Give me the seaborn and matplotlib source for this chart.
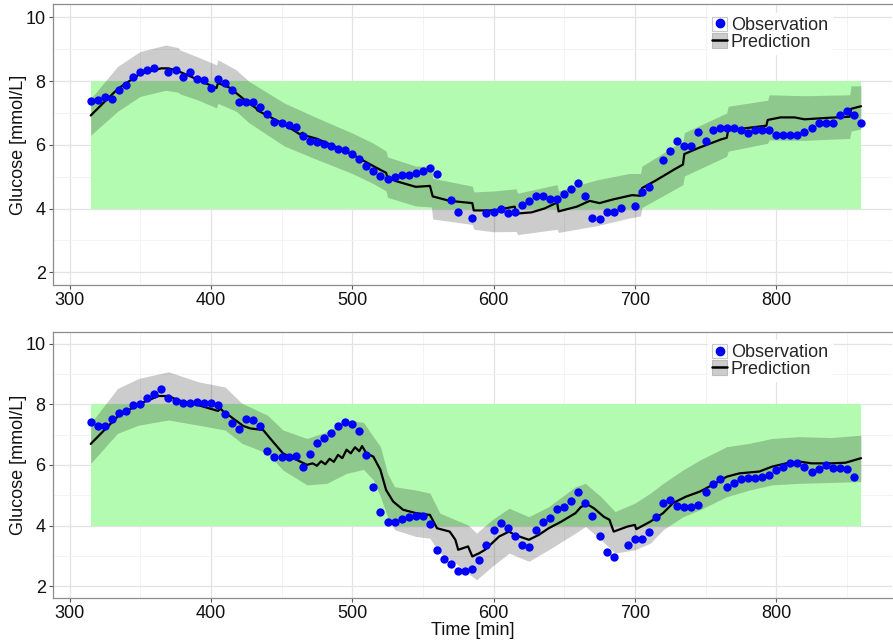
import numpy as np
import pandas as pd
import matplotlib
matplotlib.use("Agg")
import matplotlib.pyplot as plt
import seaborn as sns
from matplotlib.lines import Line2D
from matplotlib.patches import Patch

# ---------------- data ----------------
obs1_t = [315, 320, 325, 330, 335, 340, 345, 350, 355, 360, 370, 375, 380, 385, 390, 395, 400,
          405, 410, 415, 420, 425, 430, 435, 440, 445, 450, 455, 460, 465, 470, 475, 480, 485,
          490, 495, 500, 505, 510, 515, 520, 525, 530, 535, 540, 545, 550, 555, 560, 570, 575,
          585, 595, 600, 605, 610, 615, 620, 625, 630, 635, 640, 645, 650, 655, 660, 665, 670,
          675, 680, 685, 690, 700, 705, 710, 720, 725, 730, 735, 740, 745, 750, 755, 760, 765,
          770, 775, 780, 785, 790, 795, 800, 805, 810, 815, 820, 825, 830, 835, 840, 845, 850,
          855, 860]
obs1_v = [7.39, 7.42, 7.49, 7.45, 7.73, 7.88, 8.12, 8.28, 8.35, 8.41, 8.27, 8.35, 8.12, 8.29,
          8.06, 8.02, 7.77, 8.06, 7.94, 7.73, 7.34, 7.34, 7.35, 7.18, 6.96, 6.72, 6.67, 6.61,
          6.57, 6.29, 6.12, 6.09, 6.01, 5.96, 5.88, 5.85, 5.70, 5.54, 5.33, 5.18, 5.02, 4.94,
          4.99, 5.04, 5.04, 5.12, 5.19, 5.26, 5.08, 4.26, 3.88, 3.69, 3.85, 3.88, 3.98, 3.85,
          3.88, 4.11, 4.24, 4.38, 4.38, 4.31, 4.31, 4.47, 4.62, 4.81, 4.38, 3.69, 3.67, 3.88,
          3.89, 4.03, 4.08, 4.53, 4.68, 5.52, 5.80, 6.11, 5.96, 5.96, 6.39, 6.11, 6.46, 6.52,
          6.52, 6.52, 6.45, 6.37, 6.45, 6.45, 6.45, 6.32, 6.32, 6.32, 6.32, 6.39, 6.52, 6.68,
          6.68, 6.68, 6.92, 7.07, 6.95, 6.68]

pred1_t = [315, 325, 334, 350, 365, 370, 374, 375, 376, 390, 404, 405, 413, 427, 432, 433, 452,
           463, 465, 466, 475, 487, 500, 515, 524, 525, 531, 545, 555, 557, 569, 585, 586, 600,
           615, 616, 627, 636, 645, 646, 659, 668, 675, 684, 698, 704, 705, 714, 728, 734, 735,
           745, 761, 765, 766, 780, 793, 794, 803, 813, 820, 838, 852, 853, 860]
pred1_v = [6.92, 7.36, 7.75, 8.23, 8.40, 8.40, 8.35, 8.38, 8.33, 8.06, 7.78, 7.94, 7.80, 7.30,
           7.15, 7.08, 6.64, 6.33, 6.38, 6.30, 6.19, 5.96, 5.70, 5.33, 5.12, 4.96, 4.86, 4.68,
           4.71, 4.38, 4.24, 4.17, 3.94, 3.94, 4.06, 3.84, 3.88, 4.00, 4.19, 3.91, 4.06, 4.24,
           4.17, 4.28, 4.42, 4.40, 4.64, 4.86, 5.23, 5.38, 5.71, 5.90, 6.17, 6.22, 6.45, 6.53,
           6.60, 6.78, 6.86, 6.86, 6.80, 6.85, 6.88, 7.13, 7.21]

band1_t = [315, 334, 350, 368, 377, 378, 390, 404, 405, 418, 427, 452, 475, 500, 515, 524, 525,
           545, 556, 557, 585, 586, 600, 616, 617, 645, 646, 673, 696, 704, 705, 728, 734, 735,
           765, 766, 794, 795, 820, 852, 853, 860]
band1_lo = [6.30, 7.05, 7.52, 7.71, 7.65, 7.60, 7.42, 7.16, 7.30, 7.05, 6.69, 5.96, 5.54, 5.10,
            4.78, 4.55, 4.35, 4.08, 4.05, 3.67, 3.50, 3.35, 3.27, 3.28, 3.18, 3.35, 3.25, 3.46,
            3.70, 3.77, 4.03, 4.60, 4.75, 5.02, 5.64, 5.80, 6.05, 6.15, 6.14, 6.20, 6.43, 6.50]
band1_hi = [7.45, 8.46, 8.93, 9.13, 9.05, 8.98, 8.77, 8.51, 8.67, 8.35, 7.99, 7.31, 6.85, 6.37,
            6.05, 5.80, 5.62, 5.33, 5.33, 4.95, 4.70, 4.52, 4.55, 4.62, 4.48, 4.75, 4.55, 4.90,
            5.10, 5.10, 5.33, 5.96, 6.10, 6.38, 7.00, 7.21, 7.40, 7.57, 7.54, 7.57, 7.85, 7.85]

obs2_t = [315, 320, 325, 330, 335, 340, 345, 350, 355, 360, 365, 370, 375, 380, 385, 390, 395,
          400, 405, 410, 415, 420, 425, 430, 435, 440, 445, 450, 455, 460, 465, 470, 475, 480,
          485, 490, 495, 500, 505, 510, 515, 520, 525, 530, 535, 540, 545, 550, 555, 560, 565,
          570, 575, 580, 585, 590, 595, 600, 605, 610, 615, 620, 625, 630, 635, 640, 645, 650,
          655, 660, 665, 670, 675, 680, 685, 695, 700, 705, 710, 715, 720, 725, 730, 735, 740,
          745, 750, 755, 760, 765, 770, 775, 780, 785, 790, 795, 800, 805, 810, 815, 820, 825,
          830, 835, 840, 845, 850, 855]
obs2_v = [7.40, 7.28, 7.28, 7.50, 7.72, 7.78, 7.97, 8.00, 8.19, 8.35, 8.51, 8.19, 8.10, 8.03,
          8.05, 8.08, 8.05, 8.05, 7.97, 7.67, 7.39, 7.17, 7.50, 7.48, 7.28, 6.45, 6.27, 6.25,
          6.25, 6.29, 5.94, 6.36, 6.73, 6.89, 7.06, 7.28, 7.42, 7.34, 7.12, 6.33, 5.28, 4.43,
          4.10, 4.10, 4.22, 4.28, 4.32, 4.32, 4.05, 3.18, 2.89, 2.72, 2.49, 2.49, 2.57, 2.85,
          3.37, 3.84, 4.08, 3.93, 3.66, 3.37, 3.28, 3.84, 4.10, 4.26, 4.54, 4.62, 4.82, 5.12,
          4.74, 4.33, 3.66, 3.12, 2.96, 3.37, 3.55, 3.55, 3.78, 4.28, 4.74, 4.85, 4.65, 4.62,
          4.62, 4.68, 5.12, 5.37, 5.54, 5.28, 5.41, 5.53, 5.56, 5.56, 5.61, 5.67, 5.83, 5.94,
          6.07, 6.07, 5.94, 5.78, 5.86, 6.00, 5.89, 5.89, 5.86, 5.61]

pred2_t = [315, 334, 349, 363, 370, 377, 391, 405, 407, 409, 414, 423, 428, 437, 442, 451, 461,
           468, 472, 475, 478, 481, 484, 487, 490, 493, 496, 499, 502, 505, 507, 510, 515, 520,
           524, 529, 536, 545, 555, 560, 569, 573, 575, 582, 585, 590, 594, 599, 604, 611, 615,
           625, 632, 639, 648, 658, 662, 667, 671, 678, 682, 685, 695, 700, 701, 711, 720, 727,
           736, 746, 755, 765, 774, 788, 797, 807, 816, 825, 839, 849, 860]
pred2_v = [6.69, 7.59, 8.00, 8.27, 8.27, 8.13, 7.97, 7.78, 7.85, 7.75, 7.59, 7.28, 7.20, 7.15,
           6.87, 6.38, 6.16, 6.00, 6.05, 5.97, 6.12, 6.02, 6.20, 6.10, 6.33, 6.22, 6.50, 6.38,
           6.58, 6.45, 6.62, 6.38, 6.27, 5.83, 5.17, 4.79, 4.52, 4.41, 4.35, 3.91, 3.80, 3.53,
           3.20, 3.31, 2.98, 3.09, 3.20, 3.42, 3.64, 3.80, 3.69, 3.53, 3.69, 3.91, 4.13, 4.41,
           4.62, 4.68, 4.57, 4.29, 4.19, 3.80, 3.97, 4.02, 3.88, 4.13, 4.41, 4.74, 4.95, 5.12,
           5.34, 5.61, 5.72, 5.78, 5.94, 6.05, 6.11, 6.05, 6.05, 6.07, 6.22]

band2_t = [315, 334, 349, 370, 391, 410, 422, 440, 451, 468, 482, 496, 508, 515, 520, 525, 530,
           545, 555, 562, 573, 582, 588, 599, 611, 625, 639, 658, 665, 676, 686, 700, 711, 720,
           734, 746, 765, 781, 797, 816, 839, 860]
band2_lo = [6.05, 7.04, 7.31, 7.48, 7.31, 7.15, 6.71, 6.38, 5.83, 5.34, 5.39, 5.72, 5.85, 5.50,
            4.95, 4.29, 3.86, 3.64, 3.58, 3.09, 2.76, 2.43, 2.21, 2.65, 3.09, 2.82, 3.20, 3.75,
            3.97, 3.53, 3.09, 3.20, 3.42, 3.86, 4.29, 4.52, 4.95, 5.17, 5.34, 5.39, 5.42, 5.45]
band2_hi = [7.37, 8.52, 8.85, 9.07, 8.74, 8.57, 8.03, 7.64, 7.15, 6.87, 7.09, 7.48, 7.40, 6.93,
            6.60, 5.72, 5.28, 5.17, 5.07, 4.41, 4.19, 4.02, 3.75, 4.19, 4.57, 4.29, 4.62, 5.28,
            5.39, 4.95, 4.46, 4.74, 5.07, 5.39, 5.83, 6.16, 6.60, 6.71, 6.87, 6.93, 6.90, 6.98]

target_t = [315, 860]
target_lo = [4, 4]
target_hi = [8, 8]

x_ticks = [300, 400, 500, 600, 700, 800]
y_ticks = [2, 4, 6, 8, 10]
x_minor = [350, 450, 550, 650, 750, 850]
y_minor = [3, 5, 7, 9]

# ---------------- style ----------------
sns.set_theme(style="white")
plt.rcParams['font.family'] = ['Liberation Sans', 'DejaVu Sans']

FS = 13

fig = plt.figure(figsize=(8.93, 6.42), dpi=100)
ax1 = fig.add_axes([0.059, 0.5561, 0.940, 0.4377])
ax2 = fig.add_axes([0.059, 0.0690, 0.940, 0.4143])

panels = [
    (ax1, obs1_t, obs1_v, pred1_t, pred1_v, band1_t, band1_lo, band1_hi, (1.60, 10.42)),
    (ax2, obs2_t, obs2_v, pred2_t, pred2_v, band2_t, band2_lo, band2_hi, (1.62, 10.39)),
]

for ax, ot, ov, pt, pv, bt, blo, bhi, ylim in panels:
    ax.set_facecolor("white")
    ax.set_xlim(288.1, 882.0)
    ax.set_ylim(*ylim)
    ax.set_xticks(x_ticks)
    ax.set_yticks(y_ticks)
    ax.set_xticks(x_minor, minor=True)
    ax.set_yticks(y_minor, minor=True)
    ax.grid(True, which="major", color="#e3e3e3", lw=0.9, zorder=0)
    ax.grid(True, which="minor", color="#f3f3f3", lw=0.7, zorder=0)
    ax.set_axisbelow(True)
    for s in ax.spines.values():
        s.set_color("#8c8c8c")
        s.set_linewidth(0.9)
    ax.spines['right'].set_visible(False)
    ax.tick_params(axis="both", which="major", labelsize=FS, length=3, width=0.8,
                   color="#555555", labelcolor="#111111", pad=2,
                   bottom=True, left=True)
    ax.tick_params(axis="both", which="minor", length=0)

    # target range
    ax.fill_between(target_t, target_lo, target_hi, color="#b3fbb0", lw=0, zorder=1)
    # prediction band
    ax.fill_between(bt, blo, bhi, color="black", alpha=0.2, lw=0, zorder=2)
    # prediction line
    sns.lineplot(x=pt, y=pv, ax=ax, color="black", lw=1.6, estimator=None, sort=False,
                 zorder=3, legend=False)
    # observations
    sns.scatterplot(x=ot, y=ov, ax=ax, color="blue", s=36, linewidth=0, zorder=4,
                    legend=False)

    ax.set_ylabel("Glucose [mmol/L]", fontsize=FS, color="#111111")
    ax.yaxis.set_label_coords(-0.031, 0.5)
    ax.set_xlabel("")

    handles = [
        (Patch(facecolor="white", edgecolor="#c8c8c8", lw=0.8),
         Line2D([], [], marker="o", color="blue", linestyle="none", markersize=6)),
        (Patch(facecolor="#cccccc", edgecolor="#bbbbbb", lw=0.8),
         Line2D([], [], color="black", lw=1.8)),
    ]
    leg = ax.legend(handles, ["Observation", "Prediction"], loc="upper left",
                    bbox_to_anchor=(0.781, 0.968), fontsize=FS, frameon=True,
                    handlelength=0.85, handleheight=0.85, handletextpad=0.2,
                    labelspacing=-0.05, borderpad=0.2, borderaxespad=0.0, fancybox=False)
    leg.get_frame().set_facecolor("white")
    leg.get_frame().set_edgecolor("white")
    leg.get_frame().set_alpha(1.0)
    leg.set_zorder(10)

ax2.set_xlabel("Time [min]", fontsize=FS, color="#111111", labelpad=0)

fig.savefig("out.png", dpi=100)
